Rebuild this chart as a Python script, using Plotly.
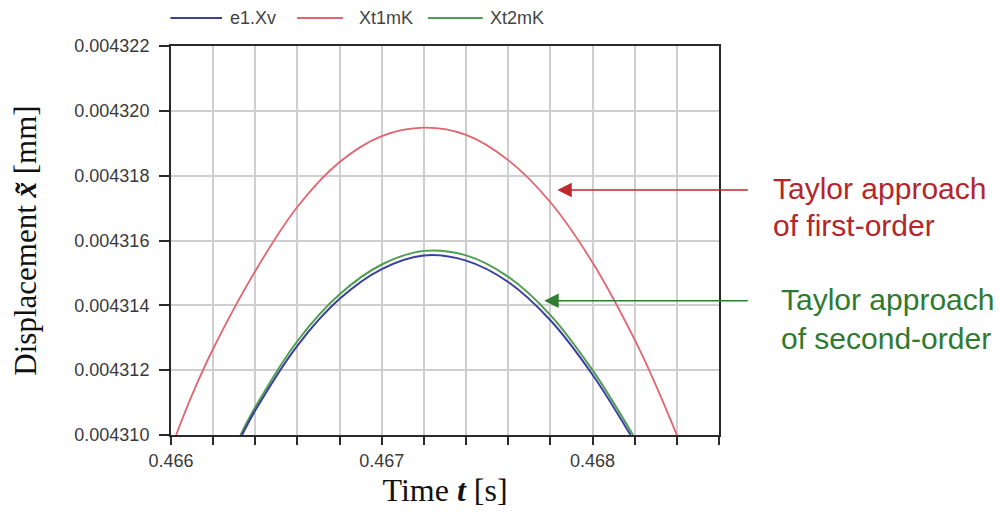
import plotly.graph_objects as go

# ---------------- data ----------------
series_names = ["e1.Xv", "Xt1mK", "Xt2mK"]

time_e1 = [0.466337, 0.4664, 0.4666, 0.4668, 0.4670, 0.4672, 0.4674, 0.4676, 0.4678, 0.4680, 0.46818]
e1_xv = [0.0043100, 0.00431076, 0.00431276, 0.00431420, 0.00431512, 0.00431554,
         0.00431538, 0.00431472, 0.00431354, 0.00431186, 0.0043100]

time_t1 = [0.466024, 0.4661, 0.4662, 0.4664, 0.4666, 0.4668, 0.4670, 0.4672, 0.4674, 0.4676,
           0.4678, 0.4680, 0.4682, 0.4683, 0.4684]
xt1mk = [0.0043100, 0.00431124, 0.00431266, 0.00431506, 0.00431704, 0.00431842, 0.00431922,
         0.00431948, 0.00431926, 0.00431848, 0.00431718, 0.00431532, 0.00431294, 0.00431154,
         0.0043100]

time_t2 = [0.46633, 0.4664, 0.4666, 0.4668, 0.4670, 0.4672, 0.4674, 0.4676, 0.4678, 0.4680, 0.468192]
xt2mk = [0.0043100, 0.00431086, 0.00431290, 0.00431434, 0.00431526, 0.00431568,
         0.00431554, 0.00431488, 0.00431370, 0.00431200, 0.0043100]

x_tickvals = [0.4660, 0.4662, 0.4664, 0.4666, 0.4668, 0.4670, 0.4672, 0.4674, 0.4676,
              0.4678, 0.4680, 0.4682, 0.4684, 0.4686]
x_ticktext = ["0.466", "", "", "", "", "0.467", "", "", "", "", "0.468", "", "", ""]
y_tickvals = [0.004310, 0.004312, 0.004314, 0.004316, 0.004318, 0.004320, 0.004322]
y_ticktext = ["0.004310", "0.004312", "0.004314", "0.004316", "0.004318", "0.004320", "0.004322"]

label_first = ["Taylor approach", "of first-order"]
label_second = ["Taylor approach", "of second-order"]

# ---------------- styling ----------------
col_blue = "#3b3fa0"
col_red = "#e2646e"
col_green = "#4f9e50"
txt_red = "#b3262c"
txt_green = "#2f7a30"

fig = go.Figure()
fig.add_trace(go.Scatter(x=time_t1, y=xt1mk, mode="lines", name=series_names[1],
                         line=dict(color=col_red, width=1.8, shape="spline")))
fig.add_trace(go.Scatter(x=time_t2, y=xt2mk, mode="lines", name=series_names[2],
                         line=dict(color=col_green, width=2, shape="spline")))
fig.add_trace(go.Scatter(x=time_e1, y=e1_xv, mode="lines", name=series_names[0],
                         line=dict(color=col_blue, width=2, shape="spline")))

fig.update_layout(
    width=1000, height=515,
    margin=dict(l=171, r=281, t=46, b=80),
    paper_bgcolor="white", plot_bgcolor="white",
    showlegend=False,
    font=dict(family="Liberation Sans, Arial", color="#3a3a3a"),
)

fig.update_xaxes(
    range=[0.466, 0.4686], tickmode="array", tickvals=x_tickvals, ticktext=x_ticktext,
    showgrid=True, gridcolor="#cfcfcf", gridwidth=1.5,
    showline=True, linecolor="#2a2a2a", linewidth=2, mirror=True,
    ticks="outside", ticklen=8, tickwidth=2, tickcolor="#2a2a2a",
    tickfont=dict(size=18, color="#3a3a3a"), zeroline=False,
    title=dict(text="Time <b><i>t</i></b> [s]", standoff=9,
               font=dict(family="Liberation Serif, Times New Roman", size=32, color="#111")),
)
fig.update_yaxes(
    range=[0.004310, 0.004322], tickmode="array", tickvals=y_tickvals, ticktext=y_ticktext,
    showgrid=True, gridcolor="#cfcfcf", gridwidth=1.5,
    showline=True, linecolor="#2a2a2a", linewidth=2, mirror=True,
    ticks="outside", ticklen=10, tickwidth=2, tickcolor="#2a2a2a",
    tickfont=dict(size=18, color="#3a3a3a"), zeroline=False, ticklabelstandoff=6,
    title=dict(text="Displacement <b><i>x̃</i></b> [mm]", standoff=28,
               font=dict(family="Liberation Serif, Times New Roman", size=31, color="#111")),
)

# ---------------- manual legend (top) ----------------
legend_items = [
    (series_names[0], col_blue, -0.001, 0.093, 0.104),
    (series_names[1], col_red, 0.230, 0.314, 0.339),
    (series_names[2], col_green, 0.469, 0.569, 0.578),
]
for name, col, x0, x1, xt in legend_items:
    fig.add_shape(type="line", xref="paper", yref="paper", x0=x0, x1=x1, y0=1.072, y1=1.072,
                  line=dict(color=col, width=2))
    fig.add_annotation(xref="paper", yref="paper", x=xt, y=1.072, text=name, showarrow=False,
                       xanchor="left", yanchor="middle",
                       font=dict(size=18, color="#444", family="Liberation Sans, Arial"))

# ---------------- arrows + labels ----------------
fig.add_annotation(x=0.467833, y=0.00431756, xref="x", yref="y", text="", showarrow=True,
                   ax=192, ay=0, arrowhead=2, arrowsize=1.8, arrowwidth=1.6, arrowcolor="#c0282e")
fig.add_annotation(x=0.467771, y=0.00431414, xref="x", yref="y", text="", showarrow=True,
                   ax=205, ay=0, arrowhead=2, arrowsize=1.8, arrowwidth=1.6, arrowcolor="#2f7d30")

# label lines positioned individually (paper coords from pixel positions)
label_pos = [
    (label_first[0], txt_red, 1.0942, 0.6337),
    (label_first[1], txt_red, 1.0942, 0.5386),
    (label_second[0], txt_green, 1.1088, 0.3482),
    (label_second[1], txt_green, 1.1088, 0.2479),
]
for txt, col, px, py in label_pos:
    fig.add_annotation(xref="paper", yref="paper", x=px, y=py, text=txt, showarrow=False,
                       xanchor="left", yanchor="middle",
                       font=dict(size=30, color=col, family="Liberation Sans, Arial"))

fig.write_html("out.html", config={"displayModeBar": False},
               post_script="document.body.style.margin='0';")
